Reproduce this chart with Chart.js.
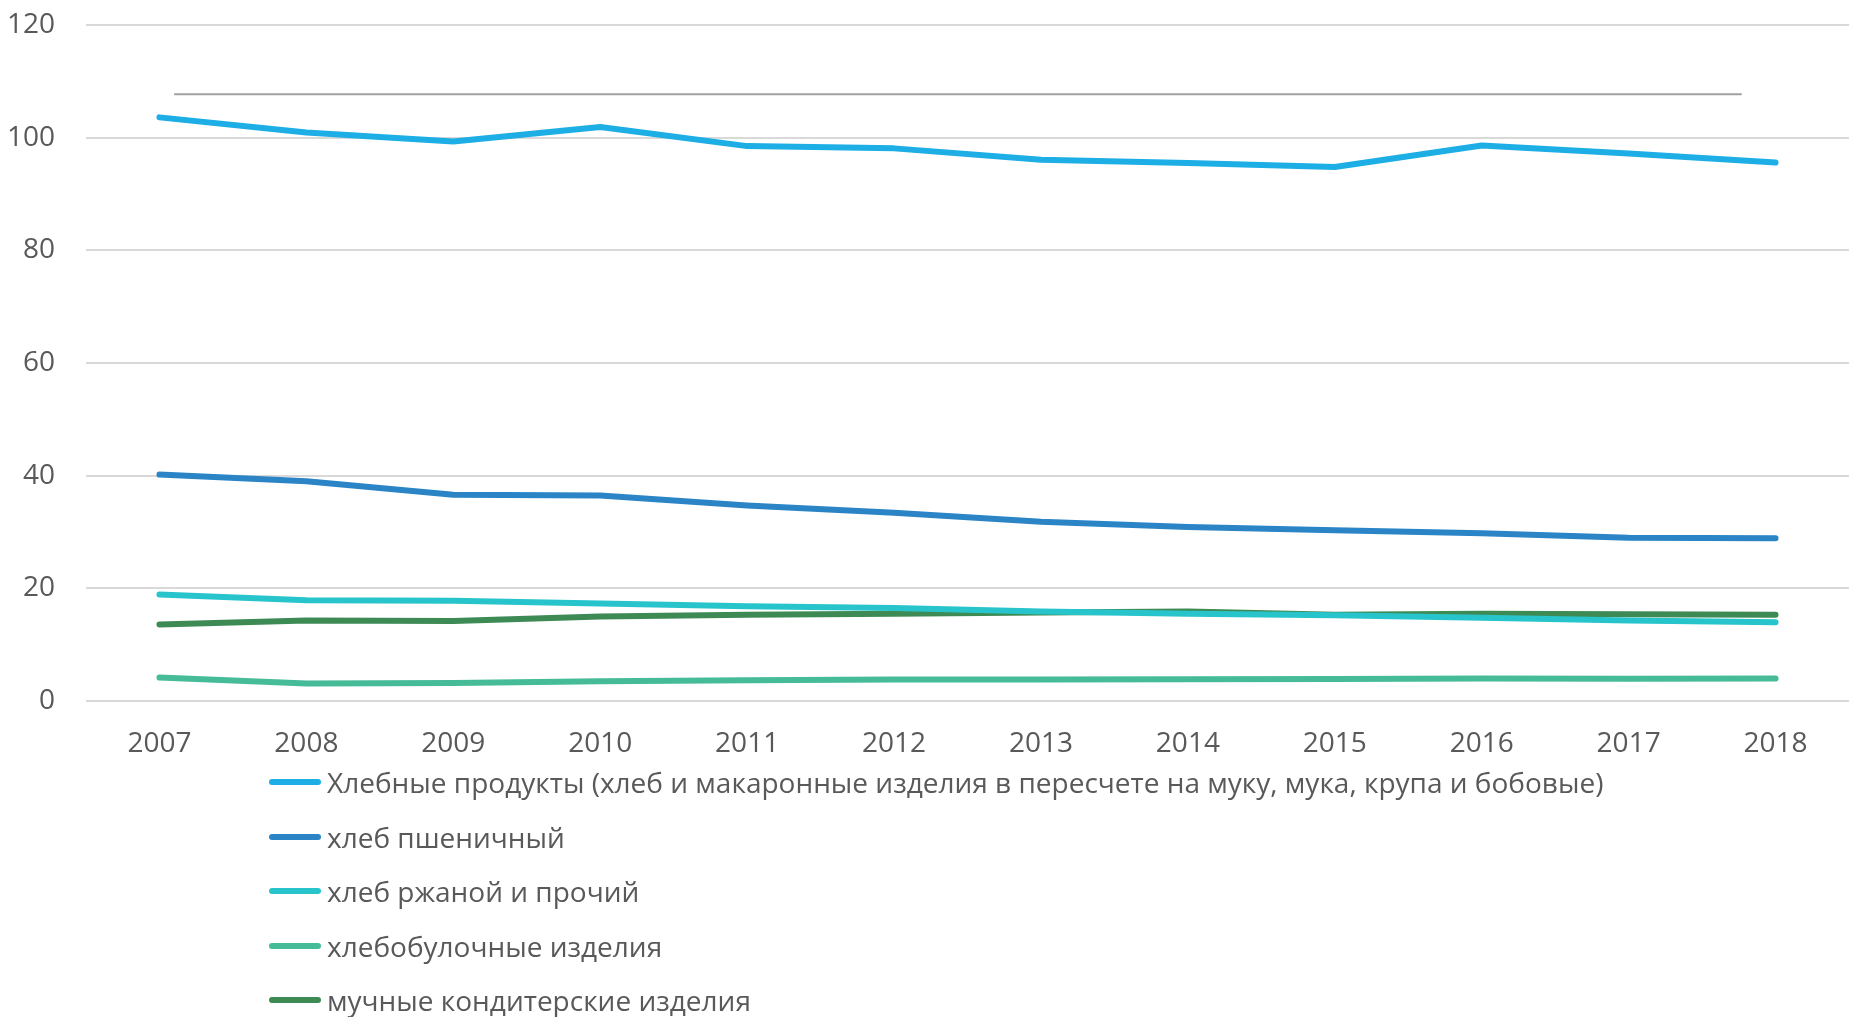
<!DOCTYPE html>
<html lang="ru">
<head>
<meta charset="utf-8">
<script src="https://cdn.jsdelivr.net/npm/chart.js@4.4.1/dist/chart.umd.min.js"></script>
<style>
  html, body { margin: 0; padding: 0; background: #fff; }
  body { width: 1849px; height: 1017px; position: relative; overflow: hidden; font-family: "Open Sans", sans-serif; }
  #wrap { position: absolute; left: 0; top: 0; width: 1849px; height: 770px; }
  #legend { position: absolute; left: 269px; top: 755px; margin: 0; padding: 0; list-style: none; }
  #legend li { height: 54.5px; display: flex; align-items: center; color: #595959; font-size: 28px; white-space: nowrap; }
  #legend .swatch { width: 52px; height: 6px; border-radius: 3px; margin-right: 6px; }
</style>
</head>
<body>
<div id="wrap"><canvas id="chart"></canvas></div>
<ul id="legend"></ul>
<script>
// Years and per-capita consumption series
const years = ['2007', '2008', '2009', '2010', '2011', '2012', '2013', '2014', '2015', '2016', '2017', '2018'];
const breadProducts = [103.6, 100.9, 99.3, 101.9, 98.5, 98.1, 96.1, 95.5, 94.8, 98.6, 97.2, 95.6];
const wheatBread = [40.2, 39.0, 36.6, 36.5, 34.7, 33.4, 31.8, 30.9, 30.3, 29.8, 29.0, 28.9];
const ryeBread = [18.9, 17.9, 17.8, 17.3, 16.8, 16.5, 15.9, 15.5, 15.2, 14.8, 14.3, 14.0];
const bakery = [4.15, 3.1, 3.2, 3.5, 3.7, 3.8, 3.8, 3.85, 3.9, 4.0, 3.95, 4.0];
const confectionery = [13.6, 14.3, 14.2, 15.0, 15.3, 15.5, 15.7, 15.9, 15.3, 15.5, 15.4, 15.3];

// Horizontal grey line (level and span in category-index units)
const normLevel = 107.7;
const normFrom = 0.1;
const normTo = 10.77;

const yTicks = [0, 20, 40, 60, 80, 100, 120];

const series = [
  { label: 'Хлебные продукты (хлеб и макаронные изделия в пересчете на муку, мука, крупа и бобовые)', data: breadProducts, color: '#1caee4' },
  { label: 'хлеб пшеничный', data: wheatBread, color: '#2a84c6' },
  { label: 'хлеб ржаной и прочий', data: ryeBread, color: '#27c4cc' },
  { label: 'хлебобулочные изделия', data: bakery, color: '#45bb97' },
  { label: 'мучные кондитерские изделия', data: confectionery, color: '#3e8a55' }
];

const tickFont = { family: '"Open Sans", sans-serif', size: 28 };

const datasets = series.map(s => ({
  label: s.label,
  data: s.data,
  borderColor: s.color,
  backgroundColor: s.color,
  borderWidth: 6,
  borderCapStyle: 'round',
  borderJoinStyle: 'round',
  pointRadius: 0,
  tension: 0,
  fill: false
}));

datasets.push({
  label: 'norm',
  data: [{ x: normFrom, y: normLevel }, { x: normTo, y: normLevel }],
  xAxisID: 'x2',
  borderColor: '#a0a0a0',
  borderWidth: 2,
  pointRadius: 0,
  fill: false
});

const ctx = document.getElementById('chart').getContext('2d');
const chart = new Chart(ctx, {
  type: 'line',
  data: { labels: years, datasets: datasets },
  options: {
    responsive: true,
    maintainAspectRatio: false,
    animation: false,
    layout: { padding: { top: 25, right: 0, bottom: 0, left: 0 } },
    plugins: {
      legend: { display: false },
      tooltip: { enabled: false }
    },
    scales: {
      x: {
        offset: true,
        grid: { display: false, drawTicks: false },
        border: { display: false },
        ticks: { color: '#595959', font: tickFont, padding: 26, maxRotation: 0 },
        afterFit: scale => { scale.height = 69; }
      },
      x2: {
        type: 'linear',
        display: false,
        min: -0.5,
        max: 11.5
      },
      y: {
        min: 0,
        max: 120,
        afterBuildTicks: scale => { scale.ticks = yTicks.map(v => ({ value: v })); },
        grid: { color: '#d9d9d9', lineWidth: 2, drawTicks: false },
        border: { display: false },
        ticks: { color: '#595959', font: tickFont, padding: 31 },
        afterFit: scale => {
          scale.width = 86;
          scale.paddingTop = 0;
          scale.paddingBottom = 0;
        }
      }
    }
  }
});

// Vertical legend under the plot
const legendEl = document.getElementById('legend');
series.forEach(s => {
  const li = document.createElement('li');
  const sw = document.createElement('span');
  sw.className = 'swatch';
  sw.style.background = s.color;
  li.appendChild(sw);
  li.appendChild(document.createTextNode(s.label));
  legendEl.appendChild(li);
});
</script>
</body>
</html>
